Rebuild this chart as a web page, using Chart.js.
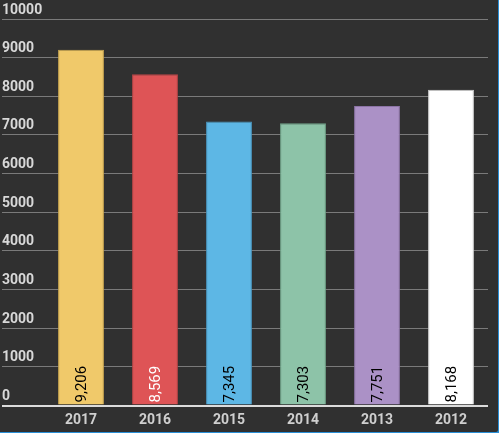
<!DOCTYPE html>
<html lang="en">
<head>
    <meta charset="UTF-8">
    <title>Chart</title>
    <style>
        html, body {
            margin: 0;
            padding: 0;
            background: #303030;
            overflow: hidden;
        }
        .frame {
            position: absolute;
            left: -10px;
            top: -10px;
            width: 505px;
            height: 439px;
            border: 3px solid #2a8fd6;
            border-radius: 5px;
            background: #303030;
        }
        .chart-box {
            position: absolute;
            left: 0;
            top: 0;
            width: 495px;
            height: 429px;
        }
    </style>
</head>
<body>
    <div class="frame"></div>
    <div class="chart-box">
        <canvas id="chart1"></canvas>
    </div>
    <script src="https://cdn.jsdelivr.net/npm/chart.js@4/dist/chart.umd.min.js"></script>
    <script>
        // 데이터
        const years = ['2017', '2016', '2015', '2014', '2013', '2012'];
        const counts = [9206, 8569, 7345, 7303, 7751, 8168];
        const yTicks = [0, 1000, 2000, 3000, 4000, 5000, 6000, 7000, 8000, 9000, 10000];

        // 색상
        const barColors = ['#f0c96a', '#de5456', '#5db7e5', '#8dc3a8', '#ab91c6', '#ffffff'];
        const barBorders = ['#c9a650', '#b84446', '#4a97c0', '#6fa388', '#8c74a6', '#d0d0d0'];
        const textColors = ['#000', '#fff', '#000', '#000', '#000', '#000'];

        // 막대 안쪽 아래에 세로 글자 표시
        const barLabels = {
            id: 'barLabels',
            afterDatasetsDraw(chart) {
                const ctx = chart.ctx;
                const meta = chart.getDatasetMeta(0);
                ctx.save();
                ctx.font = '15px Roboto';
                ctx.textAlign = 'left';
                ctx.textBaseline = 'middle';
                meta.data.forEach((bar, i) => {
                    ctx.save();
                    ctx.translate(bar.x + 1, bar.base - 2);
                    ctx.rotate(-Math.PI / 2);
                    ctx.fillStyle = textColors[i];
                    ctx.fillText(counts[i].toLocaleString('en-US'), 0, 0);
                    ctx.restore();
                });
                ctx.restore();
            }
        };

        new Chart(chart1, {
            type: 'bar',
            data: {
                labels: years,
                datasets: [
                    {
                        data: counts,
                        backgroundColor: barColors,
                        borderColor: barBorders,
                        borderWidth: 1,
                        categoryPercentage: 1,
                        barPercentage: 0.62
                    }
                ]
            },
            options: {
                maintainAspectRatio: false,
                animation: false,
                layout: {
                    padding: { left: 2, right: 7, top: 19, bottom: 0 }
                },
                plugins: {
                    legend: { display: false },
                    tooltip: { enabled: false }
                },
                scales: {
                    x: {
                        afterFit: (scale) => {
                            scale.height = 23.5;
                        },
                        grid: { display: false, drawTicks: false },
                        border: { display: false },
                        ticks: {
                            color: '#cfcfcf',
                            padding: 7,
                            font: { family: 'Roboto', size: 14, weight: 'bold' }
                        }
                    },
                    y: {
                        min: 0,
                        max: 10000,
                        afterBuildTicks: (scale) => {
                            scale.ticks = yTicks.map(v => ({ value: v }));
                        },
                        afterFit: (scale) => {
                            scale.width = 42;
                        },
                        border: { display: false },
                        grid: {
                            color: (c) => (c.tick && c.tick.value === 0) ? '#dcdcdc' : '#7a7a7a',
                            lineWidth: (c) => (c.tick && c.tick.value === 0) ? 2 : 1,
                            tickLength: 42
                        },
                        ticks: {
                            color: '#d8d8d8',
                            crossAlign: 'far',
                            labelOffset: -9,
                            callback: (v) => String(v),
                            font: { family: 'Roboto', size: 14, weight: 'bold' }
                        }
                    }
                }
            },
            plugins: [barLabels]
        });
    </script>
</body>
</html>
